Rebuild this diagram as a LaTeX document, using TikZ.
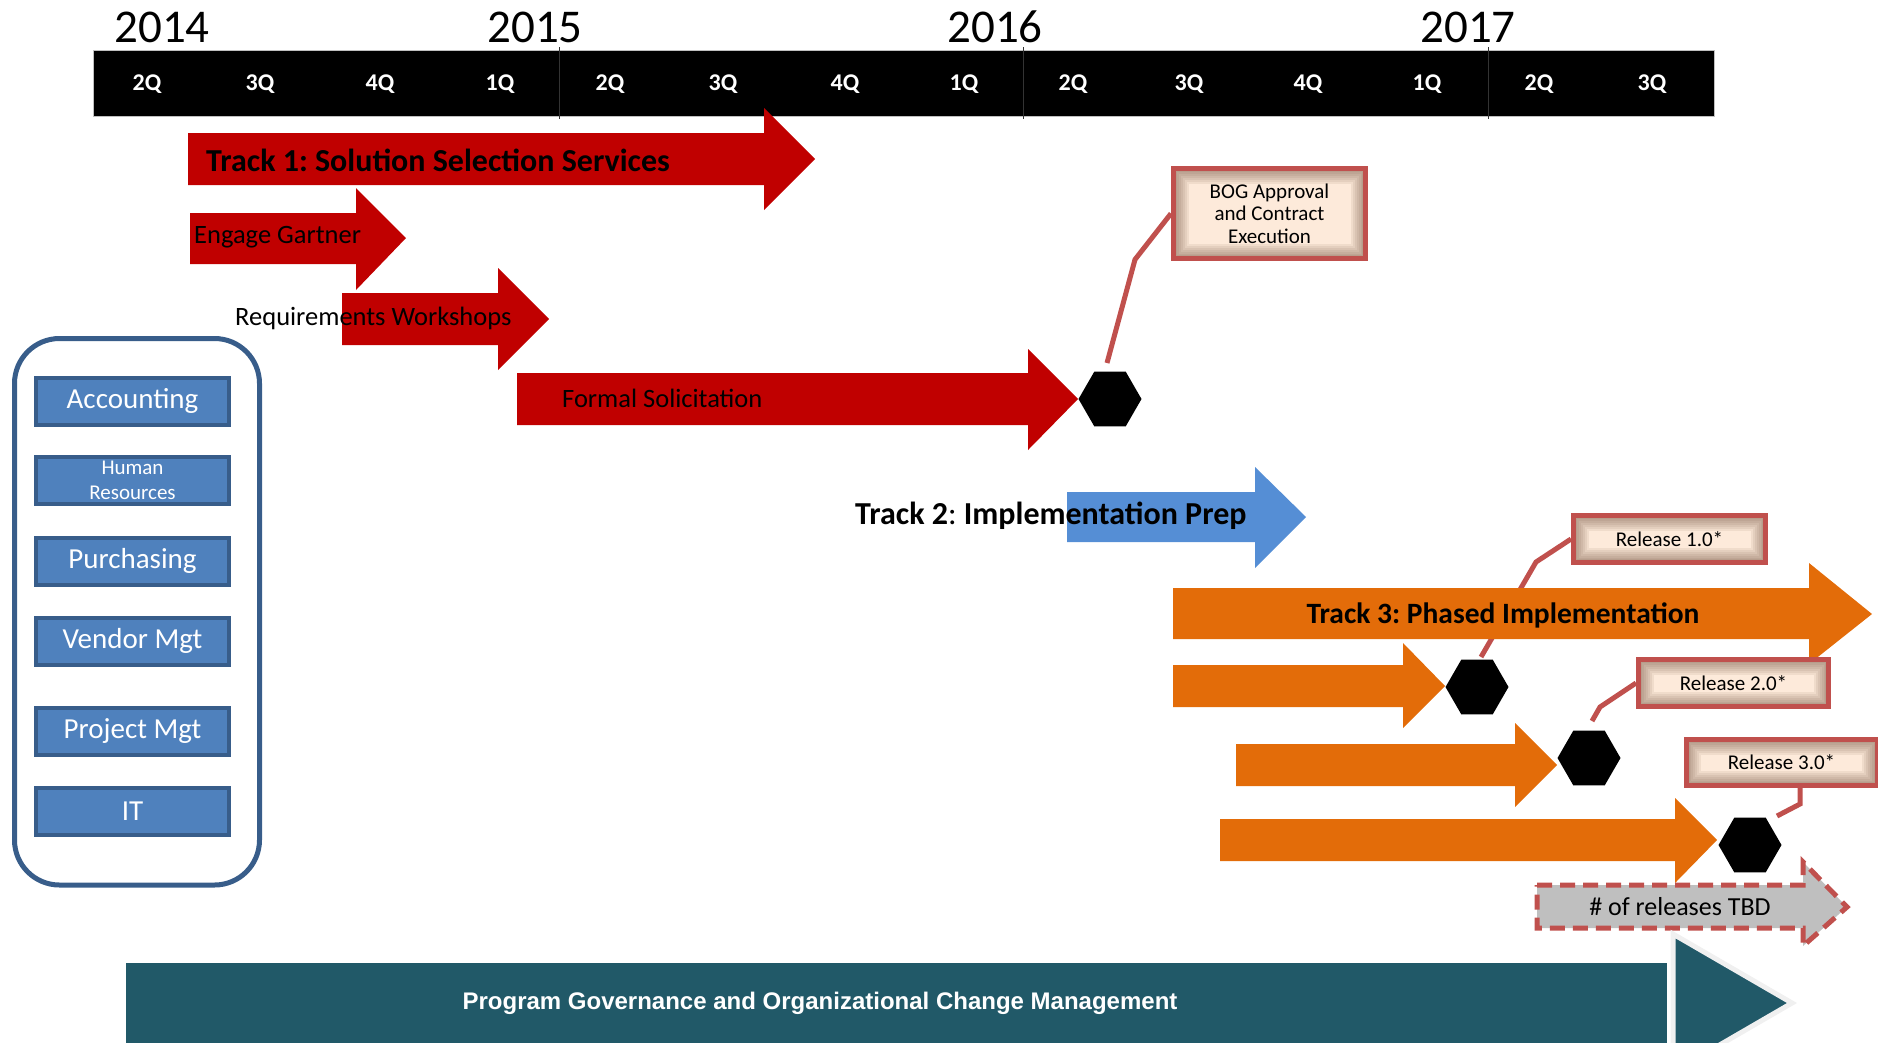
\documentclass[tikz,border=0pt]{standalone}
\usepackage{fontspec}
\setmainfont{Carlito}
\newfontfamily\govfont{Liberation Sans}
\usetikzlibrary{shapes.geometric,calc}
\frenchspacing

\definecolor{redtrack}{RGB}{192,0,0}
\definecolor{bluetrack}{RGB}{85,142,213}
\definecolor{orangetrack}{RGB}{227,108,9}
\definecolor{tbdgray}{RGB}{191,191,191}
\definecolor{callred}{RGB}{192,80,77}
\definecolor{callfill}{RGB}{253,234,218}
\definecolor{callshade}{RGB}{110,75,55}
\definecolor{govteal}{RGB}{33,89,104}
\definecolor{deptfill}{RGB}{79,129,189}
\definecolor{deptline}{RGB}{56,93,138}

\begin{document}
\begin{tikzpicture}[x=1pt,y=1pt,yscale=-1,xscale=1,
  yearlbl/.style={inner sep=0pt,font=\fontsize{47}{50}\selectfont},
  qlbl/.style={inner sep=0pt,text=white,font=\fontsize{24}{26}\selectfont\bfseries},
  steplbl/.style={anchor=west,inner sep=0pt,font=\fontsize{26.5}{29}\selectfont},
  tracklbl/.style={inner sep=0pt,font=\fontsize{32}{35}\selectfont\bfseries},
  hexmark/.style={regular polygon,regular polygon sides=6,fill=black,minimum size=63pt,inner sep=0pt},
  callbox/.style={draw=callred,line width=5pt,fill=callfill,inner sep=0pt,align=center,
    font=\fontsize{21}{22.5}\selectfont,
    path picture={\foreach \w in {30,26,22,18,14,10,7}
      \draw[callshade,line width=\w pt,opacity=0.085] (path picture bounding box.south west) rectangle (path picture bounding box.north east);}},
  callline/.style={draw=callred,line width=5pt},
  deptbox/.style={draw=deptline,line width=4pt,fill=deptfill,text=white,minimum width=193pt,minimum height=47pt,
    inner sep=0pt,align=center,font=\fontsize{29}{31}\selectfont}
]
\useasboundingbox (0,0) rectangle (1878,1042);

%Shape: Timeline Bar
\filldraw [fill=black,draw=gray!50,line width=1pt] (93,50) rectangle (1714,116) ;
\draw [black!80,line width=1pt] (559,47) -- (559,119) ;
\draw [black!80,line width=1pt] (1023,47) -- (1023,119) ;
\draw [black!80,line width=1pt] (1488,47) -- (1488,119) ;

% Text Node
\node [yearlbl] (y2014) at (162,27) {2014};
\node [yearlbl] (y2015) at (535,27) {2015};
\node [yearlbl] (y2016) at (995,27) {2016};
\node [yearlbl] (y2017) at (1468,27) {2017};

% Text Node
\node [qlbl] (q1) at (147,84) {2Q};
\node [qlbl] (q2) at (260,84) {3Q};
\node [qlbl] (q3) at (380,84) {4Q};
\node [qlbl] (q4) at (500,84) {1Q};
\node [qlbl] (q5) at (610,84) {2Q};
\node [qlbl] (q6) at (723,84) {3Q};
\node [qlbl] (q7) at (845,84) {4Q};
\node [qlbl] (q8) at (964,84) {1Q};
\node [qlbl] (q9) at (1073,84) {2Q};
\node [qlbl] (q10) at (1189,84) {3Q};
\node [qlbl] (q11) at (1308,84) {4Q};
\node [qlbl] (q12) at (1427,84) {1Q};
\node [qlbl] (q13) at (1539,84) {2Q};
\node [qlbl] (q14) at (1652,84) {3Q};

%Shape: Department Panel
\draw [deptline,line width=5pt,rounded corners=45pt] (14.5,338.5) rectangle (259.5,885) ;
\node [deptbox] (acct) at (132.5,401) {Accounting};
\node [deptbox,font=\fontsize{21}{25}\selectfont] (hr) at (132.5,480) {Human\\Resources};
\node [deptbox] (purch) at (132.5,561) {Purchasing};
\node [deptbox] (vendor) at (132.5,641) {Vendor Mgt};
\node [deptbox] (proj) at (132.5,731) {Project Mgt};
\node [deptbox] (it) at (132.5,811) {IT};

%Shape: Right Arrow
\fill [redtrack] (188,133) -- (764,133) -- (764,108) -- (815,159) -- (764,210) -- (764,185) -- (188,185) -- cycle ;
%Shape: Right Arrow
\fill [redtrack] (190,213) -- (356,213) -- (356,188) -- (406,238) -- (356,290) -- (356,264) -- (190,264) -- cycle ;
%Shape: Right Arrow
\fill [redtrack] (342,293) -- (498,293) -- (498,268) -- (549,319) -- (498,370) -- (498,345) -- (342,345) -- cycle ;
%Shape: Right Arrow
\fill [redtrack] (517,373) -- (1028,373) -- (1028,349) -- (1078,399) -- (1028,450) -- (1028,425) -- (517,425) -- cycle ;

% Text Node
\node [tracklbl,anchor=west] (track1) at (206,160) {Track 1: Solution Selection Services};
\node [steplbl] (gartner) at (194,237) {Engage Gartner};
\node [steplbl] (workshops) at (235,318) {Requirements Workshops};
\node [steplbl] (solicit) at (562,398) {Formal Solicitation};

%Shape: Milestones
\node [hexmark] (hexA) at (1110,399) {};
\node [hexmark] (hexB) at (1477,687) {};
\node [hexmark] (hexC) at (1589,758) {};
\node [hexmark] (hexD) at (1750,845) {};

%Callout: BOG
\node [callbox,minimum width=192pt,minimum height=90pt] (bog) at (1269.5,213.5) {BOG Approval\\and Contract\\Execution};
\draw [callline] (bog.west) -- ($(bog.west)+(-36,46)$) -- ($(hexA.center)+(-3,-36)$) ;

%Shape: Right Arrow
\fill [bluetrack] (1067,492) -- (1255,492) -- (1255,467) -- (1306,517) -- (1255,568) -- (1255,542) -- (1067,542) -- cycle ;
% Text Node
\node [tracklbl,anchor=west] (track2) at (855,516) {Track 2{\mdseries:} Implementation Prep};

%Callout: Release 1.0
\node [callbox,minimum width=192pt,minimum height=47pt] (rel1) at (1669.5,539) {Release 1.0*};
\draw [callline] (rel1.west) -- ($(rel1.west)+(-35,23)$) -- ($(hexB.center)+(4,-30)$) ;

%Shape: Right Arrow
\fill [orangetrack] (1173,588) -- (1809,588) -- (1809,563) -- (1872,614) -- (1809,664) -- (1809,639) -- (1173,639) -- cycle ;
% Text Node
\node [tracklbl,font=\fontsize{29.5}{32}\selectfont\bfseries] (track3) at (1503,615) {Track 3: Phased Implementation};

%Shape: Right Arrow
\fill [orangetrack] (1173,665) -- (1403,665) -- (1403,643) -- (1445,686) -- (1403,728) -- (1403,707) -- (1173,707) -- cycle ;
%Shape: Right Arrow
\fill [orangetrack] (1236,744) -- (1515,744) -- (1515,723) -- (1557,765) -- (1515,807) -- (1515,786) -- (1236,786) -- cycle ;
%Shape: Right Arrow
\fill [orangetrack] (1220,819) -- (1675,819) -- (1675,798) -- (1717,840) -- (1675,883) -- (1675,861) -- (1220,861) -- cycle ;

%Callout: Release 2.0
\node [callbox,minimum width=190pt,minimum height=47pt] (rel2) at (1733.5,683) {Release 2.0*};
\draw [callline] (rel2.west) -- ($(rel2.west)+(-36,24)$) -- ($(hexC.center)+(3,-37)$) ;

%Callout: Release 3.0
\node [callbox,minimum width=191pt,minimum height=46pt] (rel3) at (1781.5,762.5) {Release 3.0*};
\draw [callline] ($(rel3.south)+(18.5,0)$) -- ($(rel3.south)+(18.5,16)$) -- ($(hexD.center)+(27,-29)$) ;

%Shape: Right Arrow (dashed)
\filldraw [fill=tbdgray,draw=callred,line width=5pt,dash pattern=on 15pt off 8pt] (1537,885) -- (1803,885) -- (1803,862) -- (1847,907) -- (1803,946) -- (1803,928) -- (1537,928) -- cycle ;
% Text Node
\node [inner sep=0pt,font=\fontsize{26}{28}\selectfont] (tbd) at (1680,907) {\# of releases TBD};

%Shape: Governance Band
\fill [govteal] (126,963) rectangle (1667,1046) ;
\filldraw [fill=govteal,draw=black!6,line width=5pt] (1673,934) -- (1792,1003) -- (1673,1072) -- cycle ;
% Text Node
\node [inner sep=0pt,text=white,font=\govfont\fontsize{24}{26}\selectfont\bfseries] (gov) at (820,1003) {Program Governance and Organizational Change Management};

\end{tikzpicture}
\end{document}
